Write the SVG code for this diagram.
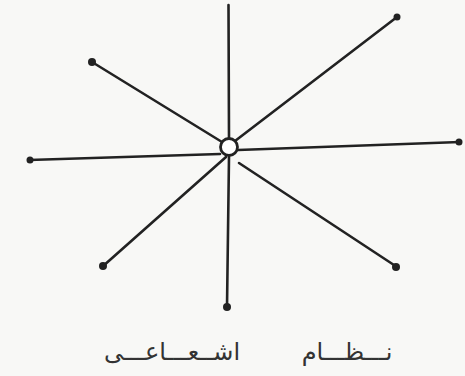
<svg xmlns="http://www.w3.org/2000/svg" width="465" height="376" viewBox="0 0 465 376">
<style>
.ray{stroke:#222;stroke-width:2.6;stroke-linecap:round;fill:none}
.dot{fill:#222}
.lbl{font-family:"DejaVu Sans","Noto Sans",sans-serif;font-size:24px;fill:#333}
</style>
<rect width="465" height="376" fill="#f8f8f6"/>
<g id="connectors">
<line class="ray" x1="229" y1="139" x2="228.5" y2="5"/>
<line class="ray" x1="235" y1="141" x2="397" y2="17"/>
<line class="ray" x1="222" y1="142" x2="92" y2="62"/>
<line class="ray" x1="220" y1="154" x2="29" y2="160"/>
<line class="ray" x1="238" y1="150" x2="460" y2="142"/>
<line class="ray" x1="226" y1="157" x2="102" y2="267"/>
<line class="ray" x1="239" y1="163" x2="397" y2="267"/>
<line class="ray" x1="229" y1="157" x2="227" y2="307"/>
</g>
<g id="center"><circle cx="229" cy="147" r="8.5" fill="#fff" stroke="#222" stroke-width="2.8"/></g>
<g id="n-ul"><circle class="dot" cx="92" cy="62" r="4"/></g>
<g id="n-ur"><circle class="dot" cx="397" cy="17" r="3.5"/></g>
<g id="n-l"><circle class="dot" cx="30" cy="160" r="3.5"/></g>
<g id="n-r"><circle class="dot" cx="459" cy="142" r="3.5"/></g>
<g id="n-ll"><circle class="dot" cx="103" cy="266" r="4"/></g>
<g id="n-lr"><circle class="dot" cx="396" cy="267" r="4"/></g>
<g id="n-b"><circle class="dot" cx="227" cy="307" r="4"/></g>
<g id="label">
<text class="lbl" x="347" y="360" text-anchor="middle" direction="rtl">نـــظـــام</text>
<text class="lbl" x="172" y="360" text-anchor="middle" direction="rtl">اشــعـــاعـــى</text>
</g>
</svg>
